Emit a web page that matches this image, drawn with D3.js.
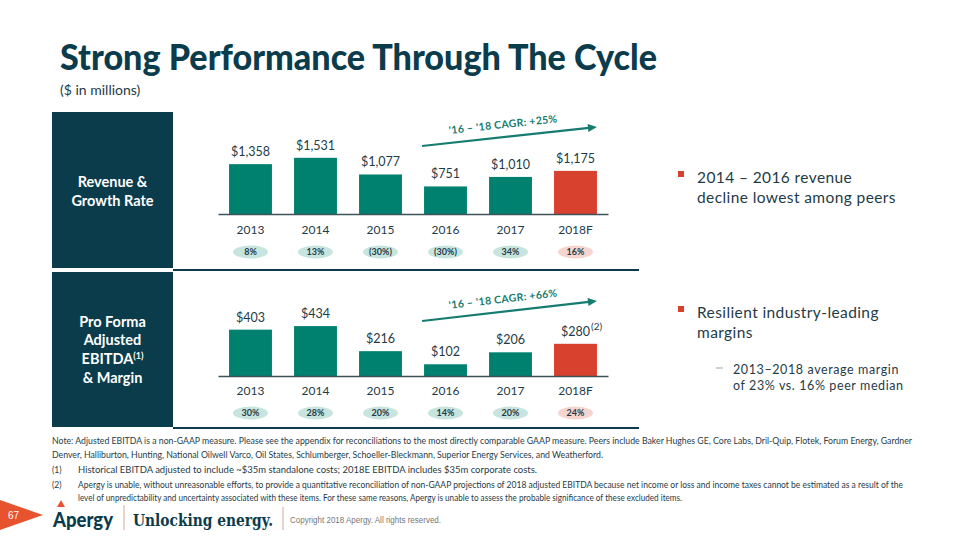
<!DOCTYPE html>
<html><head><meta charset="utf-8">
<script src="https://cdn.jsdelivr.net/npm/d3@7"></script>
<style>
html,body{margin:0;padding:0;background:#fff;}
svg{display:block;font-family:Lato,"Open Sans",sans-serif;}
</style></head>
<body><svg id="c" width="960" height="540"></svg>
<script>
const years = ['2013','2014','2015','2016','2017','2018F'];
const revenue = [1358,1531,1077,751,1010,1175];
const revenueGrowth = ['8%','13%','(30%)','(30%)','34%','16%'];
const ebitda = [403,434,216,102,206,280];
const margin = ['30%','28%','20%','14%','20%','24%'];
const forecast = [false,false,false,false,false,true];
const revenueLabels = ['$1,358','$1,531','$1,077','$751','$1,010','$1,175'];
const ebitdaLabels = ['$403','$434','$216','$102','$206','$280'];

const C = {navy:'#0b3c4c', teal:'#00806f', red:'#d9412f', text:'#1f3b47',
  ovalTeal:'#c8e4df', ovalRed:'#f6d5d0', arrow:'#167c70', axis:'#3e525a'};

const svg = d3.select('#c');

// Title
svg.append('text').attr('x',60).attr('y',70).attr('font-size',36).attr('font-weight',900)
  .attr('fill',C.navy).attr('textLength',597).attr('lengthAdjust','spacingAndGlyphs')
  .text('Strong Performance Through The Cycle');
svg.append('text').attr('x',60).attr('y',95).attr('font-size',14).attr('fill',C.text)
  .text('($ in millions)');

// Left boxes
svg.append('rect').attr('x',52).attr('y',112).attr('width',121).attr('height',156).attr('fill',C.navy);
svg.append('rect').attr('x',52).attr('y',272).attr('width',121).attr('height',155).attr('fill',C.navy);
[['Revenue &',187],['Growth Rate',206]].forEach(d=>{
  svg.append('text').attr('x',112.5).attr('y',d[1]).attr('text-anchor','middle')
    .attr('font-size',14.5).attr('font-weight',700).attr('fill','#fff').text(d[0]);
});
[['Pro Forma',327],['Adjusted',345],['EBITDA',364],['& Margin',383]].forEach(d=>{
  const t = svg.append('text').attr('x',112.5).attr('y',d[1]).attr('text-anchor','middle')
    .attr('font-size',14.5).attr('font-weight',700).attr('fill','#fff').text(d[0]);
  if(d[0]==='EBITDA'){
    t.append('tspan').attr('dy',-5).attr('font-size',9).text('(1)');
  }
});
// separators
svg.append('line').attr('x1',173).attr('x2',639).attr('y1',270).attr('y2',270).attr('stroke',C.navy).attr('stroke-width',2);
svg.append('line').attr('x1',173).attr('x2',639).attr('y1',428).attr('y2',428).attr('stroke',C.navy).attr('stroke-width',2);

const x = d3.scaleBand().domain(years).range([218,608]).paddingInner(0.34).paddingOuter(0.17);

function panel(values, labels, rates, axisY, yMax, topPx, yearY, ovalY, cagr, arrowDy){
  const y = d3.scaleLinear().domain([0,yMax]).range([axisY, axisY-topPx]);
  const g = svg.append('g');
  g.selectAll('rect.bar').data(values).join('rect')
    .attr('x',(d,i)=>x(years[i])).attr('width',x.bandwidth())
    .attr('y',d=>y(d)).attr('height',d=>y(0)-y(d))
    .attr('fill',(d,i)=>forecast[i]?C.red:C.teal);
  // axis
  const ax = g.append('g').attr('transform',`translate(0,${axisY})`)
    .call(d3.axisBottom(x).tickSize(0).tickSizeOuter(0).tickPadding(0));
  ax.select('.domain').attr('stroke',C.axis).attr('stroke-width',1.5);
  ax.selectAll('text').remove();
  g.selectAll('text.yr').data(years).join('text')
    .attr('x',d=>x(d)+x.bandwidth()/2).attr('y',yearY).attr('text-anchor','middle')
    .attr('font-size',12).attr('fill',C.text).text(d=>d);
  g.selectAll('text.val').data(values).join('text')
    .attr('x',(d,i)=>x(years[i])+x.bandwidth()/2).attr('y',d=>y(d)-8).attr('text-anchor','middle')
    .attr('font-size',12.5).attr('fill',C.text).text((d,i)=>labels[i]);
  g.selectAll('ellipse').data(rates).join('ellipse')
    .attr('cx',(d,i)=>x(years[i])+x.bandwidth()/2).attr('cy',ovalY).attr('rx',17.5).attr('ry',6.5)
    .attr('fill',(d,i)=>forecast[i]?C.ovalRed:C.ovalTeal);
  g.selectAll('text.rt').data(rates).join('text')
    .attr('x',(d,i)=>x(years[i])+x.bandwidth()/2).attr('y',ovalY+3.2).attr('text-anchor','middle')
    .attr('font-size',9).attr('font-weight',700).attr('fill',C.text).text(d=>d);
  // CAGR arrow
  const x1 = x('2016')-2, x2 = x('2018F')+x.bandwidth();
  const y1 = axisY-arrowDy[0], y2 = axisY-arrowDy[1];
  g.append('line').attr('x1',x1).attr('y1',y1).attr('x2',x2-8).attr('y2',y2+0.9)
    .attr('stroke',C.arrow).attr('stroke-width',2.2);
  const ang = Math.atan2(y2-y1,x2-x1);
  const ah = 9, aw = 4;
  const p = [[x2,y2],[x2-ah*Math.cos(ang)+aw*Math.sin(ang), y2-ah*Math.sin(ang)-aw*Math.cos(ang)],
             [x2-ah*Math.cos(ang)-aw*Math.sin(ang), y2-ah*Math.sin(ang)+aw*Math.cos(ang)]];
  g.append('polygon').attr('points',p.map(q=>q.join(',')).join(' ')).attr('fill',C.arrow);
  const deg = ang*180/Math.PI;
  const tx = 503.5, tyBase = y1 + (tx-x1)*Math.tan(ang) - 9;
  g.append('text').attr('transform',`translate(${tx},${tyBase}) rotate(${deg})`)
    .attr('text-anchor','middle').attr('font-size',10.5).attr('font-weight',700)
    .attr('fill',C.arrow).attr('letter-spacing',0.3).text(cagr);
  return {y,g};
}

panel(revenue, revenueLabels, revenueGrowth, 214, 1700, 62.4, 234, 252, "'16 – '18 CAGR: +25%", [68,87]);
const b = panel(ebitda, ebitdaLabels, margin, 376, 500, 57.5, 395, 413, "'16 – '18 CAGR: +66%", [55,75]);
// superscript (2) on last EBITDA label
{
  const i = years.length-1;
  const lbl = b.g.selectAll('text').filter(function(){return d3.select(this).text()===ebitdaLabels[i];});
  const w = lbl.node().getComputedTextLength();
  b.g.append('text').attr('x',x(years[i])+x.bandwidth()/2+w/2+1).attr('y',b.y(ebitda[i])-14)
    .attr('font-size',10).attr('fill',C.text).text('(2)');
}

// Right-hand bullets
svg.append('rect').attr('x',678).attr('y',171).attr('width',6).attr('height',6).attr('fill',C.red);
svg.append('rect').attr('x',678).attr('y',306).attr('width',6).attr('height',6).attr('fill',C.red);
const rt = (t,xx,yy,fs,ls)=>svg.append('text').attr('x',xx).attr('y',yy).attr('font-size',fs)
  .attr('letter-spacing',ls).attr('fill',C.text).text(t);
rt('2014 – 2016 revenue',697,183,15.5,0.4);
rt('decline lowest among peers',697,203,15.5,0.4);
rt('Resilient industry-leading',697,318,15.5,0.4);
rt('margins',697,338,15.5,0.4);
svg.append('line').attr('x1',716).attr('x2',723).attr('y1',368).attr('y2',368).attr('stroke','#9aa5aa').attr('stroke-width',1);
rt('2013–2018 average margin',733,374,12.5,0.6);
rt('of 23% vs. 16% peer median',733,390,12.5,0.6);

// Footnotes
const fn = (t,xx,yy,len)=>svg.append('text').attr('x',xx).attr('y',yy).attr('font-size',8.5)
  .attr('fill',C.text).attr('textLength',len).attr('lengthAdjust','spacingAndGlyphs').text(t);
fn('Note: Adjusted EBITDA is a non-GAAP measure. Please see the appendix for reconciliations to the most directly comparable GAAP measure. Peers include Baker Hughes GE, Core Labs, Dril-Quip, Flotek, Forum Energy, Gardner',52,444,860);
fn('Denver, Halliburton, Hunting, National Oilwell Varco, Oil States, Schlumberger, Schoeller-Bleckmann, Superior Energy Services, and Weatherford.',52,458,551);
svg.append('text').attr('x',52).attr('y',473).attr('font-size',8.5).attr('fill',C.text).text('(1)');
fn('Historical EBITDA adjusted to include ~$35m standalone costs; 2018E EBITDA includes $35m corporate costs.',78,473,459);
svg.append('text').attr('x',52).attr('y',488).attr('font-size',8.5).attr('fill',C.text).text('(2)');
fn('Apergy is unable, without unreasonable efforts, to provide a quantitative reconciliation of non-GAAP projections of 2018 adjusted EBITDA because net income or loss and income taxes cannot be estimated as a result of the',78,488,825);
fn('level of unpredictability and uncertainty associated with these items. For these same reasons, Apergy is unable to assess the probable significance of these excluded items.',78,501,604);

// Footer
svg.append('polygon').attr('points','0,500 43,515 0,530').attr('fill','#e8532f');
svg.append('text').attr('x',8).attr('y',519).attr('font-size',10).attr('fill','#fff')
  .attr('font-family','Liberation Sans, Arial').text('67');
svg.append('text').attr('x',53).attr('y',527).attr('font-size',20).attr('font-weight',900)
  .attr('fill',C.navy).attr('textLength',60).attr('lengthAdjust','spacingAndGlyphs').text('Apergy');
svg.append('polygon').attr('points','57,507 61,500 65,507').attr('fill','#e8532f');
svg.append('line').attr('x1',124).attr('x2',124).attr('y1',505).attr('y2',530).attr('stroke','#d9a49a').attr('stroke-width',1);
svg.append('text').attr('x',133).attr('y',526).attr('font-size',17).attr('font-weight',700)
  .attr('font-family','DejaVu Serif, serif').attr('fill',C.navy)
  .attr('textLength',140).attr('lengthAdjust','spacingAndGlyphs').text('Unlocking energy.');
svg.append('line').attr('x1',283).attr('x2',283).attr('y1',507).attr('y2',530).attr('stroke','#d9a49a').attr('stroke-width',1);
svg.append('text').attr('x',290).attr('y',523).attr('font-size',8.5).attr('fill','#777')
  .attr('font-family','Liberation Sans, Arial').attr('textLength',151).attr('lengthAdjust','spacingAndGlyphs')
  .text('Copyright 2018 Apergy. All rights reserved.');
</script></body></html>
